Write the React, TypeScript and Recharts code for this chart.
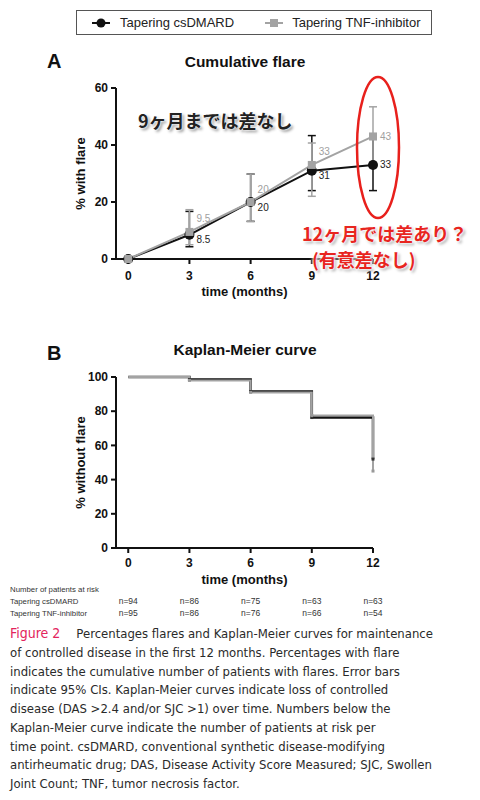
import React from 'react';
import { LineChart, Line, XAxis, YAxis, ErrorBar, LabelList, Legend } from 'recharts';

const months = [0, 3, 6, 9, 12];
const flareCs = [0, 8.5, 20, 31, 33];
const flareTnf = [0, 9.5, 20, 33, 43];
const ciLowCs = [0, 4.3, 13.2, 24, 24];
const ciHighCs = [0, 16.7, 29.8, 43.3, 42];
const ciLowTnf = [0, 5, 13.2, 22, 34];
const ciHighTnf = [0, 17.3, 29.8, 40.7, 53.4];
const kmCs = [100, 98.5, 91.5, 76.3, 52];
const kmTnf = [100, 98, 91, 77.5, 45];
const riskCs = [94, 86, 75, 63, 63];
const riskTnf = [95, 86, 76, 66, 54];
const flareTicks = [0, 20, 40, 60];
const kmTicks = [0, 20, 40, 60, 80, 100];
const seriesNames = ['Tapering csDMARD', 'Tapering TNF-inhibitor'];

const BLACK = '#111111';
const GREY = '#a3a3a3';
const FONT = '"Liberation Sans", Arial, Helvetica, sans-serif';
const JP = '"Noto Sans CJK JP", sans-serif';

const flareData = months.map((m, i) => ({
  month: m,
  cs: flareCs[i],
  tnf: flareTnf[i],
  csErr: [flareCs[i] - ciLowCs[i], ciHighCs[i] - flareCs[i]],
  tnfErr: [flareTnf[i] - ciLowTnf[i], ciHighTnf[i] - flareTnf[i]],
}));

const kmData = months.map((m, i) => ({ month: m, cs: kmCs[i], tnf: kmTnf[i] }));

const tickStyle = { fontSize: 12, fontWeight: 700, fill: '#111', fontFamily: FONT };

const makeLabel = (color: string, dyMid: number) => (props: any) => {
  const { x, y, value, index } = props;
  if (index === 0) return null;
  const dy = index === months.length - 1 ? 0 : dyMid;
  return (
    <text key={`l${index}`} x={x + 7} y={y + dy} fill={color} fontSize={10} fontFamily={FONT} dominantBaseline="central">
      {value}
    </text>
  );
};

const circleDot = (p: any) => <circle key={`c${p.index}`} cx={p.cx} cy={p.cy} r={5} fill={BLACK} />;
const squareDot = (p: any) => <rect key={`s${p.index}`} x={p.cx - 4} y={p.cy - 4} width={8} height={8} fill={GREY} />;
const smallDot = (color: string) => (p: any) =>
  p.index === 0 ? <g key={`e${p.index}`} /> : <rect key={`k${p.index}`} x={p.cx - 1.5} y={p.cy - 1.5} width={3} height={3} fill={color} />;

const yLabel = (text: string) => (props: any) => {
  const vb = props.viewBox;
  const cx = vb.x + 4;
  const cy = vb.y + vb.height / 2;
  return (
    <text x={cx} y={cy} transform={`rotate(-90, ${cx}, ${cy})`} textAnchor="middle" dominantBaseline="central" fontSize={13} fontWeight={700} fill="#111" fontFamily={FONT}>
      {text}
    </text>
  );
};

const legendColors = [BLACK, GREY];

const renderLegend = () => (
  <div style={{ border: '1px solid #555', height: 25, boxSizing: 'border-box', display: 'flex', alignItems: 'center', fontSize: 13, fontFamily: FONT, color: '#222' }}>
    {seriesNames.map((name, i) => (
      <div key={i} style={{ display: 'flex', alignItems: 'center', marginLeft: i === 0 ? 15 : 31 }}>
        <svg width={18} height={12}>
          <line x1={0} y1={6} x2={18} y2={6} stroke={legendColors[i]} strokeWidth={2} />
          {i === 0 ? <circle cx={9} cy={6} r={4.5} fill={legendColors[i]} /> : <rect x={5} y={2} width={8} height={8} fill={legendColors[i]} />}
        </svg>
        <span style={{ marginLeft: i === 0 ? 10 : 9 }}>{name}</span>
      </div>
    ))}
  </div>
);

const glowDark = '0 0 2px #fff, 0 0 3px #fff, 2px 2px 3px #888';
const glowRed = '0 0 2px #fff, 0 0 3px #fff, 0 0 4px #fff, 2px 2px 3px #999';

export default function App() {
  return (
    <div style={{ position: 'absolute', left: 0, top: 0, width: 480, height: 800, background: '#fff', fontFamily: FONT }}>
      {/* Panel A */}
      <div style={{ position: 'absolute', left: 47, top: 50, fontSize: 20, fontWeight: 700, color: '#111' }}>A</div>
      <div style={{ position: 'absolute', left: 0, width: 490, top: 53, textAlign: 'center', fontSize: 15.5, fontWeight: 700, color: '#111' }}>Cumulative flare</div>
      <div style={{ position: 'absolute', left: 0, top: 0 }}>
        <LineChart width={480} height={300} data={flareData} margin={{ top: 88, right: 107, bottom: 0, left: 76 }} style={{ fontFamily: FONT }}>
          <XAxis
            dataKey="month"
            type="number"
            domain={[-0.6, 12]}
            ticks={months}
            height={41}
            tick={tickStyle}
            tickSize={5}
            tickMargin={7}
            stroke={BLACK}
            strokeWidth={2}
            label={{ value: 'time  (months)', position: 'insideTop', offset: 28, fontSize: 13, fontWeight: 700, fill: '#111', style: { whiteSpace: 'pre' } }}
          />
          <YAxis
            type="number"
            domain={[0, 60]}
            ticks={flareTicks}
            width={40}
            tick={tickStyle}
            tickSize={5}
            tickMargin={3}
            stroke={BLACK}
            strokeWidth={2}
            label={yLabel('% with flare')}
          />
          <Legend
            layout="vertical"
            align="center"
            verticalAlign="middle"
            content={renderLegend}
            wrapperStyle={{ top: 10, left: 76, width: 356, height: 25 }}
          />
          <Line dataKey="cs" name={seriesNames[0]} stroke={BLACK} strokeWidth={2} dot={circleDot} isAnimationActive={false}>
            <ErrorBar dataKey="csErr" direction="y" width={4} stroke={BLACK} strokeWidth={1.5} />
            <LabelList dataKey="cs" content={makeLabel('#222', 5)} />
          </Line>
          <Line dataKey="tnf" name={seriesNames[1]} stroke={GREY} strokeWidth={2} dot={squareDot} isAnimationActive={false}>
            <ErrorBar dataKey="tnfErr" direction="y" width={4} stroke={GREY} strokeWidth={1.5} />
            <LabelList dataKey="tnf" content={makeLabel('#a0a0a0', -13)} />
          </Line>
        </LineChart>
      </div>
      <div style={{ position: 'absolute', left: 138, top: 110, fontFamily: JP, fontWeight: 700, fontSize: 18, lineHeight: '20px', color: '#222', textShadow: glowDark, whiteSpace: 'nowrap' }}>
        9ヶ月までは差なし
      </div>
      <svg width={480} height={300} style={{ position: 'absolute', left: 0, top: 0, pointerEvents: 'none' }}>
        <ellipse cx={378} cy={147.5} rx={21} ry={70.5} fill="none" stroke="#e8201c" strokeWidth={2.5} />
      </svg>
      <div style={{ position: 'absolute', left: 302, top: 224, fontFamily: JP, fontWeight: 700, fontSize: 18, lineHeight: '18px', color: '#e8251f', textShadow: glowRed, whiteSpace: 'nowrap' }}>
        12ヶ月では差あり？
      </div>
      <div style={{ position: 'absolute', left: 312, top: 250, fontFamily: JP, fontWeight: 700, fontSize: 18, lineHeight: '18px', color: '#e8251f', textShadow: glowRed, whiteSpace: 'nowrap' }}>
        (有意差なし)
      </div>

      {/* Panel B */}
      <div style={{ position: 'absolute', left: 47, top: 342, fontSize: 20, fontWeight: 700, color: '#111' }}>B</div>
      <div style={{ position: 'absolute', left: 0, width: 490, top: 341, textAlign: 'center', fontSize: 15.5, fontWeight: 700, color: '#111' }}>Kaplan-Meier curve</div>
      <div style={{ position: 'absolute', left: 0, top: 330 }}>
        <LineChart width={480} height={292} data={kmData} margin={{ top: 47, right: 107, bottom: 0, left: 76 }} style={{ fontFamily: FONT }}>
          <XAxis
            dataKey="month"
            type="number"
            domain={[-0.6, 12]}
            ticks={months}
            height={50}
            tick={tickStyle}
            tickSize={5}
            tickMargin={5}
            stroke={BLACK}
            strokeWidth={2}
            label={{ value: 'time (months)', position: 'insideTop', offset: 27, fontSize: 13, fontWeight: 700, fill: '#111' }}
          />
          <XAxis
            xAxisId="r1"
            dataKey="month"
            type="number"
            domain={[-0.6, 12]}
            ticks={months}
            height={12}
            axisLine={false}
            tickLine={false}
            tickSize={0}
            tickMargin={0}
            tick={{ fontSize: 8.5, fill: '#333', fontFamily: FONT }}
            tickFormatter={(v: number, i: number) => `n=${riskCs[i]}`}
          />
          <XAxis
            xAxisId="r2"
            dataKey="month"
            type="number"
            domain={[-0.6, 12]}
            ticks={months}
            height={12}
            axisLine={false}
            tickLine={false}
            tickSize={0}
            tickMargin={0}
            tick={{ fontSize: 8.5, fill: '#333', fontFamily: FONT }}
            tickFormatter={(v: number, i: number) => `n=${riskTnf[i]}`}
          />
          <YAxis
            type="number"
            domain={[0, 100]}
            ticks={kmTicks}
            width={40}
            tick={tickStyle}
            tickSize={5}
            tickMargin={3}
            stroke={BLACK}
            strokeWidth={2}
            label={yLabel('% without flare')}
          />
          <Line type="stepAfter" dataKey="cs" name={seriesNames[0]} stroke={BLACK} strokeWidth={2.5} dot={smallDot('#333')} isAnimationActive={false} />
          <Line type="stepAfter" dataKey="tnf" name={seriesNames[1]} stroke={GREY} strokeWidth={2} dot={smallDot('#999')} isAnimationActive={false} />
        </LineChart>
      </div>
      <div style={{ position: 'absolute', left: 10, top: 584, fontSize: 7.8, lineHeight: '12px', color: '#333', whiteSpace: 'nowrap' }}>
        <div>Number of patients at risk</div>
        <div>{seriesNames[0]}</div>
        <div>{seriesNames[1]}</div>
      </div>

      {/* Caption */}
      <div style={{ position: 'absolute', left: 10, top: 624, width: 470, fontFamily: '"DejaVu Sans Condensed", sans-serif', fontSize: 13, lineHeight: '18.75px', color: '#2a2a2a', whiteSpace: 'nowrap' }}>
        <div><span style={{ color: '#e3245c', fontSize: 14 }}>Figure 2</span><span style={{ marginLeft: 16 }}>Percentages flares and Kaplan-Meier curves for maintenance</span></div>
        <div>of controlled disease in the first 12 months. Percentages with flare</div>
        <div>indicates the cumulative number of patients with flares. Error bars</div>
        <div>indicate 95% CIs. Kaplan-Meier curves indicate loss of controlled</div>
        <div>disease (DAS &gt;2.4 and/or SJC &gt;1) over time. Numbers below the</div>
        <div>Kaplan-Meier curve indicate the number of patients at risk per</div>
        <div>time point. csDMARD, conventional synthetic disease-modifying</div>
        <div>antirheumatic drug; DAS, Disease Activity Score Measured; SJC, Swollen</div>
        <div>Joint Count; TNF, tumor necrosis factor.</div>
      </div>
    </div>
  );
}
